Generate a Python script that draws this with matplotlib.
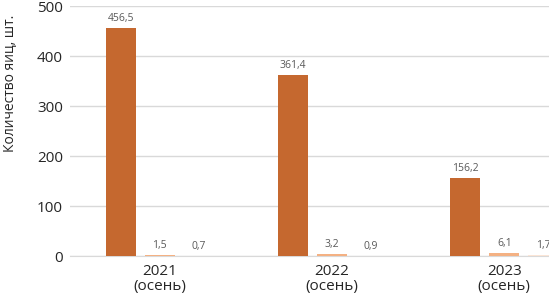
import matplotlib
matplotlib.use("Agg")
import matplotlib.pyplot as plt
import numpy as np

categories = ["2021\n(осень)", "2022\n(осень)", "2023\n(осень)"]
series1 = [456.5, 361.4, 156.2]
series2 = [1.5, 3.2, 6.1]
series3 = [0.7, 0.9, 1.7]
labels1 = ["456,5", "361,4", "156,2"]
labels2 = ["1,5", "3,2", "6,1"]
labels3 = ["0,7", "0,9", "1,7"]
yticks = [0, 100, 200, 300, 400, 500]

plt.rcParams['font.family'] = ['Open Sans', 'DejaVu Sans']

fig = plt.figure(figsize=(5.49, 2.93), dpi=100)
ax = fig.add_axes([70/549, 37/293, 1 - 70/549, 250/293])

x = np.arange(len(categories))
w = 0.174
off = 0.226
colors = ["#C5682F", "#F4B183", "#FBE5D6"]
for s, lab, dx, c in [(series1, labels1, -off, colors[0]),
                      (series2, labels2, 0, colors[1]),
                      (series3, labels3, off, colors[2])]:
    bars = ax.bar(x + dx, s, width=w, color=c, zorder=3)
    for b, t in zip(bars, lab):
        ax.text(b.get_x() + b.get_width()/2, b.get_height() + 8, t,
                ha='center', va='bottom', fontsize=7.5, color='#595959', zorder=4)

ax.set_xlim(-0.52, 2.26)
ax.set_ylim(0, 500)
ax.set_yticks(yticks)
ax.set_xticks(x)
ax.set_xticklabels(categories, fontsize=11, color='#262626', linespacing=0.95)
ax.tick_params(axis='y', labelsize=11, colors='#262626', length=0, pad=5)
ax.tick_params(axis='x', length=0, pad=6)
ax.grid(axis='y', color='#D9D9D9', linewidth=1, zorder=0)
for sp in ['top', 'right', 'left']:
    ax.spines[sp].set_visible(False)
ax.spines['bottom'].set_color('#D9D9D9')
ax.set_ylabel("Количество яиц, шт.", fontsize=10, color='#262626')
ax.yaxis.set_label_coords(-0.11, 0.69)

fig.savefig("out.png", dpi=100)
